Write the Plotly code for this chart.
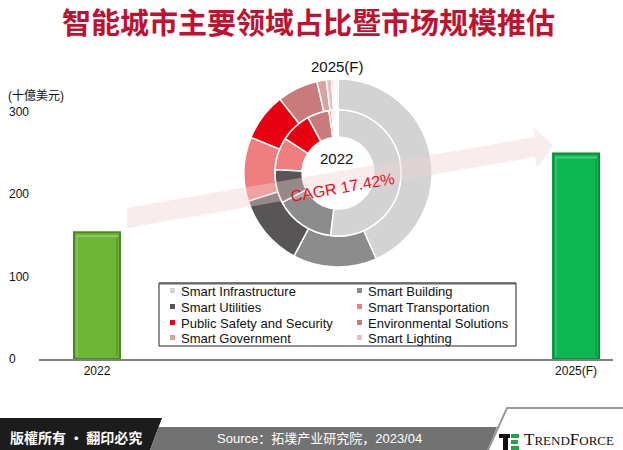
import plotly.graph_objects as go

W, H = 623, 450

# ---------------- data ----------------
years = ["2022", "2025(F)"]
market_size = [154.0, 249.5]          # 十億美元
cagr_text = "CAGR 17.42%"

segments = ["Smart Infrastructure", "Smart Building", "Smart Utilities",
            "Smart Transportation", "Public Safety and Security",
            "Environmental Solutions", "Smart Government", "Smart Lighting",
            "Other A", "Other B", "Other C"]
share_2022 = [51.9, 15.4, 8.6, 8.3, 7.9, 5.6, 0.7, 0.5, 0.5, 0.3, 0.3]
share_2025 = [43.3, 14.4, 12.4, 11.0, 8.2, 7.0, 1.6, 0.9, 0.4, 0.3, 0.4]
legend_count = 8

y_ticks = [0, 100, 200, 300]

# ---------------- styles ----------------
seg_colors = ["#D3D3D3", "#8C8C8C", "#575555", "#EF7E7E", "#E60012",
              "#C97B7B", "#D9A2A2", "#E6BFBF", "#EDCCCC", "#F2D9D9", "#F7E6E6"]
bar_colors = ["#6DB535", "#0DB850"]
bar_edges = ["#4B8726", "#078C3A"]
TXT = "Liberation Sans, Arial, Noto Sans CJK TC"


def px(x):
    return x / W


def py(y):
    return 1 - y / H


fig = go.Figure()

fig.add_trace(go.Bar(
    x=years, y=market_size, width=0.096,
    marker=dict(color=bar_colors, line=dict(color=bar_edges, width=2)),
    hoverinfo="x+y", showlegend=False,
))

cx, cy, r_out, r_in = 338, 173, 94, 63
fig.add_trace(go.Pie(
    labels=segments, values=share_2025, hole=0.67, sort=False,
    direction="clockwise", rotation=0, textinfo="none",
    marker=dict(colors=seg_colors, line=dict(color="white", width=1.5)),
    domain=dict(x=[px(cx - r_out), px(cx + r_out)], y=[py(cy + r_out), py(cy - r_out)]),
    showlegend=False,
))
fig.add_trace(go.Pie(
    labels=segments, values=share_2022, hole=0.57, sort=False,
    direction="clockwise", rotation=0, textinfo="none",
    marker=dict(colors=seg_colors, line=dict(color="white", width=1.5)),
    domain=dict(x=[px(cx - r_in), px(cx + r_in)], y=[py(cy + r_in), py(cy - r_in)]),
    showlegend=False,
))

shapes = []
annotations = []


def poly(points, fill, line=None, lw=0, layer="above"):
    d = "M " + " L ".join(f"{px(a):.5f},{py(b):.5f}" for a, b in points) + " Z"
    shapes.append(dict(type="path", path=d, xref="paper", yref="paper",
                       fillcolor=fill, line=dict(width=lw, color=line or fill), layer=layer))


def rect(x0, y0, x1, y1, fill, line=None, lw=0, layer="above"):
    shapes.append(dict(type="rect", xref="paper", yref="paper",
                       x0=px(x0), x1=px(x1), y0=py(y1), y1=py(y0),
                       fillcolor=fill, line=dict(width=lw, color=line or fill), layer=layer))


# bar bevel highlights
for i, xb in enumerate([97, 576]):
    top = 359 - market_size[i] * (247 / 300)
    rect(xb - 21, top + 3, xb + 21, top + 5, "rgba(255,255,255,0.25)")
    rect(xb - 21, top + 5, xb - 19, 356, "rgba(255,255,255,0.15)")
    rect(xb + 19, top + 5, xb + 21, 356, "rgba(0,0,0,0.12)")

# CAGR arrow band (translucent)
poly([(127, 208), (535, 137), (533, 127), (553, 145), (537, 168), (535, 157), (127, 228)],
     "rgba(240,210,210,0.42)")

# legend box
rect(159, 283, 516, 346, "rgba(255,255,255,0.85)", line="#222222", lw=1, layer="below")
shapes.append(dict(type="line", xref="paper", yref="paper", x0=px(159), x1=px(516),
                   y0=py(283.5), y1=py(283.5), line=dict(color="#666666", width=2)))
rows = [291, 307, 323, 338]
for i in range(legend_count):
    col, row = i % 2, i // 2
    sx = 170 if col == 0 else 357
    ry = rows[row]
    rect(sx, ry - 3, sx + 5, ry + 2, seg_colors[i])
    annotations.append(dict(text=segments[i], x=px(sx + 9), y=py(ry), xref="paper", yref="paper",
                            xanchor="left", yanchor="middle", showarrow=False,
                            font=dict(size=13, color="#111111", family=TXT)))

# footer
poly([(0, 418), (162, 418), (150, 450), (0, 450)], "#1C1C1C")
poly([(158.6, 427), (497, 427), (488, 450), (150, 450)], "#727272")
shapes.append(dict(type="path", xref="paper", yref="paper",
                   path=f"M {px(488)},{py(450)} L {px(507)},{py(408)} L {px(623)},{py(408)}",
                   line=dict(color="#9A9A9A", width=2)))
# logo icon
rect(499, 434, 510, 438, "#111111")
rect(503, 438, 508, 450, "#111111")
rect(511, 434, 519, 438, "#22A548")
rect(511, 440, 518, 444, "#22A548")
rect(511, 446, 519, 450, "#22A548")

# texts
annotations += [
    dict(text="<b>智能城市主要领域占比暨市场规模推估</b>", x=px(308), y=py(21),
         font=dict(size=29, color="#BE1230", family="Noto Sans CJK SC")),
    dict(text="(十億美元)", x=px(6), y=py(96), xanchor="left",
         font=dict(size=12, color="#111111", family=TXT)),
    dict(text="2025(F)", x=px(337), y=py(66), font=dict(size=15, color="#111111", family=TXT)),
    dict(text="2022", x=px(336), y=py(158), font=dict(size=15, color="#111111", family=TXT)),
    dict(text=cagr_text, x=px(342), y=py(187), textangle=-10,
         font=dict(size=16, color="#E8101E", family=TXT)),
    dict(text="<b>版權所有 · 翻印必究</b>", x=px(8), y=py(437), xanchor="left",
         font=dict(size=14, color="white", family="Noto Sans CJK TC")),
    dict(text="Source：拓墣产业研究院，2023/04", x=px(320), y=py(438),
         font=dict(size=13, color="white", family="Liberation Sans, Noto Sans CJK SC")),
    dict(text="T<span style='font-size:13px'>REND</span>F<span style='font-size:13px'>ORCE</span>",
         x=px(522), y=py(439), xanchor="left",
         font=dict(size=17, color="#111111", family="Liberation Serif, DejaVu Serif")),
]
for a in annotations:
    a.setdefault("xref", "paper")
    a.setdefault("yref", "paper")
    a.setdefault("showarrow", False)
    a.setdefault("yanchor", "middle")

for t in y_ticks:
    annotations.append(dict(text=str(t), x=px(7), y=t, xref="paper", yref="y",
                            xanchor="left", yanchor="middle", showarrow=False,
                            font=dict(size=12, color="#111111", family=TXT)))

fig.update_layout(
    width=W, height=H, margin=dict(l=0, r=0, t=0, b=0),
    paper_bgcolor="white", plot_bgcolor="rgba(0,0,0,0)",
    showlegend=False,
    xaxis=dict(domain=[px(39), px(613)], type="category", range=[-0.121, 1.077],
               showline=True, linecolor="#808080", linewidth=2, ticks="",
               showgrid=False, zeroline=False, fixedrange=True,
               tickfont=dict(size=12, color="#111111", family=TXT)),
    yaxis=dict(domain=[py(359), py(112)], range=[0, 300], showticklabels=False,
               showgrid=False, zeroline=False, showline=False, fixedrange=True),
    shapes=shapes, annotations=annotations,
)

fig.write_html("out.html")
